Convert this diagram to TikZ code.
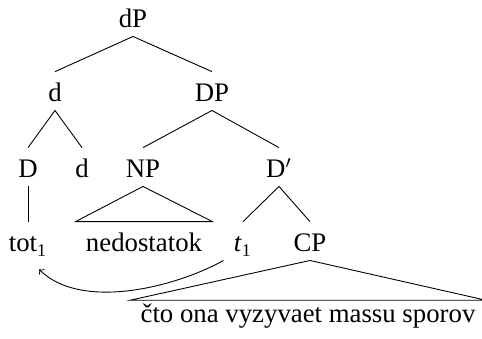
\documentclass[tikz,border=0pt]{standalone}
\usepackage{fontspec}
\setmainfont{Liberation Serif}
\usepackage{tikz}
\tikzset{cat/.style={anchor=base, inner xsep=4.5pt, inner ysep=3pt,
        text height=10.4pt, text depth=0.6pt, font=\fontsize{12}{14}\selectfont},
    roof text/.style={cat, text height=7pt},
    x=0.448pt, y=0.448pt}

\begin{document}
\begin{tikzpicture}
    \useasboundingbox (0,0) rectangle (482,-339);
    % categories, by level
    \node[cat] (dP)   at (133,-28)  {dP};
    \node[cat] (d)    at (55,-102)  {d};
    \node[cat] (DP)   at (212,-102) {DP};
    \node[cat] (D)    at (28,-178)  {D};
    \node[cat] (dd)   at (82,-178)  {d};
    \node[cat] (NP)   at (143,-178) {NP};
    \node[cat] (Dbar) at (279,-178) {D$'$};
    \node[cat] (tot)  at (28,-252)  {tot\textsubscript{1}};
    \node[cat] (ned)  at (144,-252) {nedostatok};
    \node[cat] (t1)   at (243,-252) {\textit{t}\textsubscript{1}};
    \node[cat] (CP)   at (310,-252) {CP};
    \node[roof text] (cto) at (308,-323) {čto ona vyzyvaet massu sporov};
    % branches
    \foreach \p/\c in {dP/d, dP/DP, d/D, d/dd, DP/NP, DP/Dbar, D/tot, Dbar/t1, Dbar/CP}
        \draw (\p.south) -- (\c.north);
    % roofs
    \draw (NP.south) -- (ned.north west) -- (ned.north east) -- cycle;
    \draw (CP.south) -- (cto.north west) -- (cto.north east) -- cycle;
    % movement
    \draw[->] (t1.south west) to[out=209,in=-45,looseness=0.8] ([xshift=5pt,yshift=-4pt]tot.south);
\end{tikzpicture}
\end{document}
